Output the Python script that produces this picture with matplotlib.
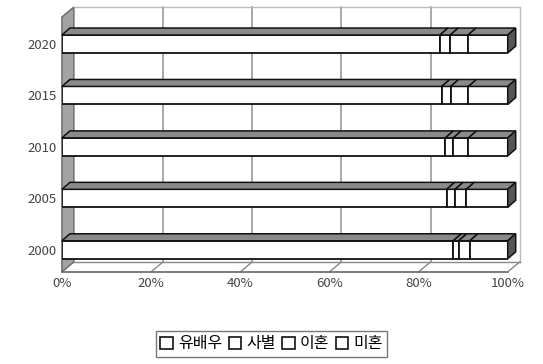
import matplotlib.pyplot as plt
from matplotlib.patches import Patch

plt.rcParams['font.family'] = ['Noto Sans CJK KR', 'DejaVu Sans']

years = ["2000", "2005", "2010", "2015", "2020"]
labels = ["유배우", "사별", "이혼", "미혼"]
married = [87.8, 86.3, 86.0, 85.2, 84.8]
widowed = [1.2, 1.9, 1.8, 2.0, 2.3]
divorced = [2.5, 2.5, 3.4, 4.0, 4.0]
single = [8.5, 9.3, 8.8, 8.8, 8.9]
series = [married, widowed, divorced, single]

fig = plt.figure(figsize=(5.43, 3.64), dpi=100)
ax = fig.add_axes([0.114, 0.253, 0.821, 0.725])
ax.set_xlim(0, 100)
ax.set_ylim(-0.43, 4.70)

# depth of the fake 3d box, in data units (about 8 px right, 7 px up)
dx = 8 / 446 * 100
dy = 7 / 51.5
wall_dx = 12 / 446 * 100
wall_dy = 10 / 51.5
wall_top = 4.72
h = 0.35
ypos = list(range(len(years)))

# back wall frame and grid
ax.plot([wall_dx, 100 + wall_dx, 100 + wall_dx], [wall_top, wall_top, -0.43 + wall_dy],
        color="#bbbbbb", lw=1, clip_on=False)
for t in [20, 40, 60, 80]:
    ax.plot([t + wall_dx, t + wall_dx], [-0.43 + wall_dy, wall_top], color="#999999", lw=1.2,
            zorder=0, clip_on=False)
    ax.plot([t, t + wall_dx], [-0.43, -0.43 + wall_dy], color="#888888", lw=1, clip_on=False)

# floor
ax.plot([0, 100], [-0.43, -0.43], color="#666666", lw=1.2, clip_on=False)
ax.plot([wall_dx, 100 + wall_dx], [-0.43 + wall_dy, -0.43 + wall_dy], color="#888888", lw=1, clip_on=False)
ax.plot([100, 100 + wall_dx], [-0.43, -0.43 + wall_dy], color="#888888", lw=1, clip_on=False)

# left wall
ax.fill([0, wall_dx, wall_dx, 0], [-0.43, -0.43 + wall_dy, wall_top, wall_top - wall_dy],
        color="#a3a3a3", ec="#666666", lw=1, clip_on=False, zorder=1)

left = [0] * len(years)
for vals in series:
    ax.barh(ypos, vals, left=left, height=h, color="white", edgecolor="#111111", lw=1.3, zorder=3)
    for y, l, w in zip(ypos, left, vals):
        top = y + h / 2
        ax.fill([l, l + w, l + w + dx, l + dx], [top, top, top + dy, top + dy],
                color="#8a8a8a", ec="#111111", lw=1.1, zorder=3, clip_on=False)
    left = [a + b for a, b in zip(left, vals)]

for y, l in zip(ypos, left):
    bot, top = y - h / 2, y + h / 2
    ax.fill([l, l + dx, l + dx, l], [bot, bot + dy, top + dy, top],
            color="#555555", ec="#111111", lw=1.1, zorder=3, clip_on=False)

ax.set_yticks(ypos)
ax.set_yticklabels(years)
ax.set_xticks([0, 20, 40, 60, 80, 100])
ax.set_xticklabels(["0%", "20%", "40%", "60%", "80%", "100%"])
ax.tick_params(length=0, labelsize=9.5, colors="#444444", pad=4)
for s in ax.spines.values():
    s.set_visible(False)

handles = [Patch(facecolor="white", edgecolor="#111111", lw=1.2) for _ in labels]
fig.legend(handles, labels, loc="center", bbox_to_anchor=(0.5, 0.055), ncol=4,
           fontsize=11.5, handlelength=0.8, handleheight=0.8, handletextpad=0.3,
           columnspacing=0.4, frameon=True, fancybox=False, edgecolor="#555555",
           borderpad=0.3)

fig.savefig("out.png", dpi=100)
